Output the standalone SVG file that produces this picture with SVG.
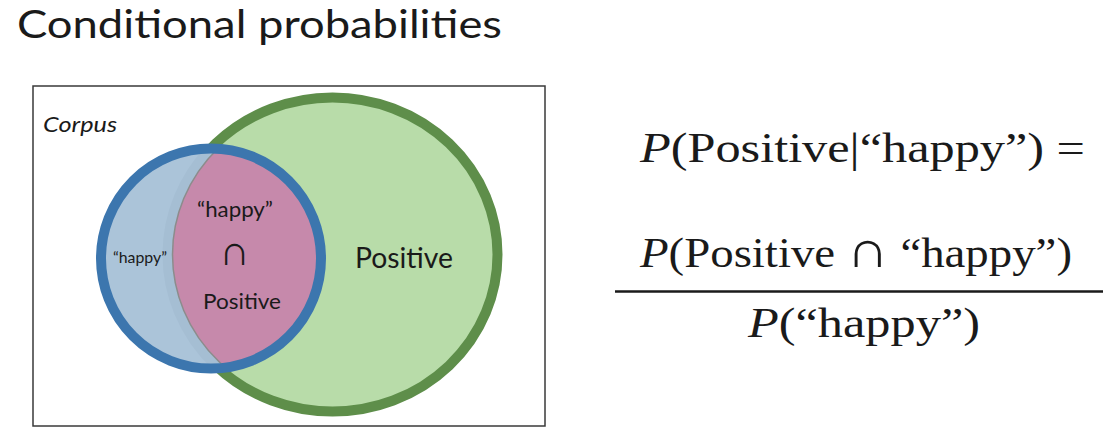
<svg xmlns="http://www.w3.org/2000/svg" width="1110" height="436" viewBox="0 0 1110 436">
<style>
.sans{font-family:Lato,"Open Sans","Liberation Sans",sans-serif;fill:#1a1a1a}
.math{font-family:"Liberation Serif","DejaVu Serif",serif;fill:#1a1a1a;font-size:42px}
.it{font-style:italic}
.cap{font-family:"Liberation Serif","DejaVu Serif",serif;fill:#1a1a1a}
</style>
<defs>
<clipPath id="blueIn"><circle cx="211" cy="258.5" r="110"/></clipPath>
</defs>
<rect width="1110" height="436" fill="#ffffff"/>
<g id="title">
<text class="sans" x="17" y="38" font-size="38" textLength="485" lengthAdjust="spacingAndGlyphs">Conditional probabilities</text>
</g>
<g id="corpus">
<rect x="33" y="86" width="512" height="340" fill="#ffffff" stroke="#3a3a3a" stroke-width="1.5"/>
<text class="sans" x="43" y="132" font-size="22" font-style="italic" textLength="74" lengthAdjust="spacingAndGlyphs">Corpus</text>
</g>
<g id="positive">
<ellipse cx="332.5" cy="254.5" rx="165" ry="157" fill="#b8dca9" stroke="#5e8e4a" stroke-width="10"/>
<text class="sans" x="404" y="268" font-size="28" text-anchor="middle" textLength="98" lengthAdjust="spacingAndGlyphs">Positive</text>
</g>
<g id="happy">
<circle cx="211" cy="258.5" r="110" fill="#abc4d9"/>
<g clip-path="url(#blueIn)">
<ellipse cx="332.5" cy="254.5" rx="165" ry="157" fill="#c689ab" stroke="#a5bed3" stroke-width="10"/>
<ellipse cx="332.5" cy="254.5" rx="160" ry="152" fill="none" stroke="#8c8c8c" stroke-width="1.5"/>
</g>
<circle cx="211" cy="258.5" r="110" fill="none" stroke="#3c76ae" stroke-width="10"/>
<text class="sans" x="140" y="263" font-size="15" text-anchor="middle" textLength="54" lengthAdjust="spacingAndGlyphs">“happy”</text>
</g>
<g id="intersection">
<text class="sans" x="235" y="217" font-size="22" text-anchor="middle" textLength="76" lengthAdjust="spacingAndGlyphs">“happy”</text>
<text class="cap" x="234.5" y="265" font-size="42" text-anchor="middle">∩</text>
<text class="sans" x="242" y="309" font-size="22" text-anchor="middle" textLength="78" lengthAdjust="spacingAndGlyphs">Positive</text>
</g>
<g id="formula">
<text class="math" x="640" y="162" textLength="445" lengthAdjust="spacingAndGlyphs"><tspan class="it">P</tspan>(Positive|“happy”) =</text>
<text class="math" x="640" y="267" textLength="432" lengthAdjust="spacingAndGlyphs"><tspan class="it">P</tspan>(Positive <tspan font-size="52">∩</tspan> “happy”)</text>
<line x1="615" y1="291.5" x2="1103" y2="291.5" stroke="#1a1a1a" stroke-width="2.5"/>
<text class="math" x="748" y="337" textLength="232" lengthAdjust="spacingAndGlyphs"><tspan class="it">P</tspan>(“happy”)</text>
</g>
</svg>
